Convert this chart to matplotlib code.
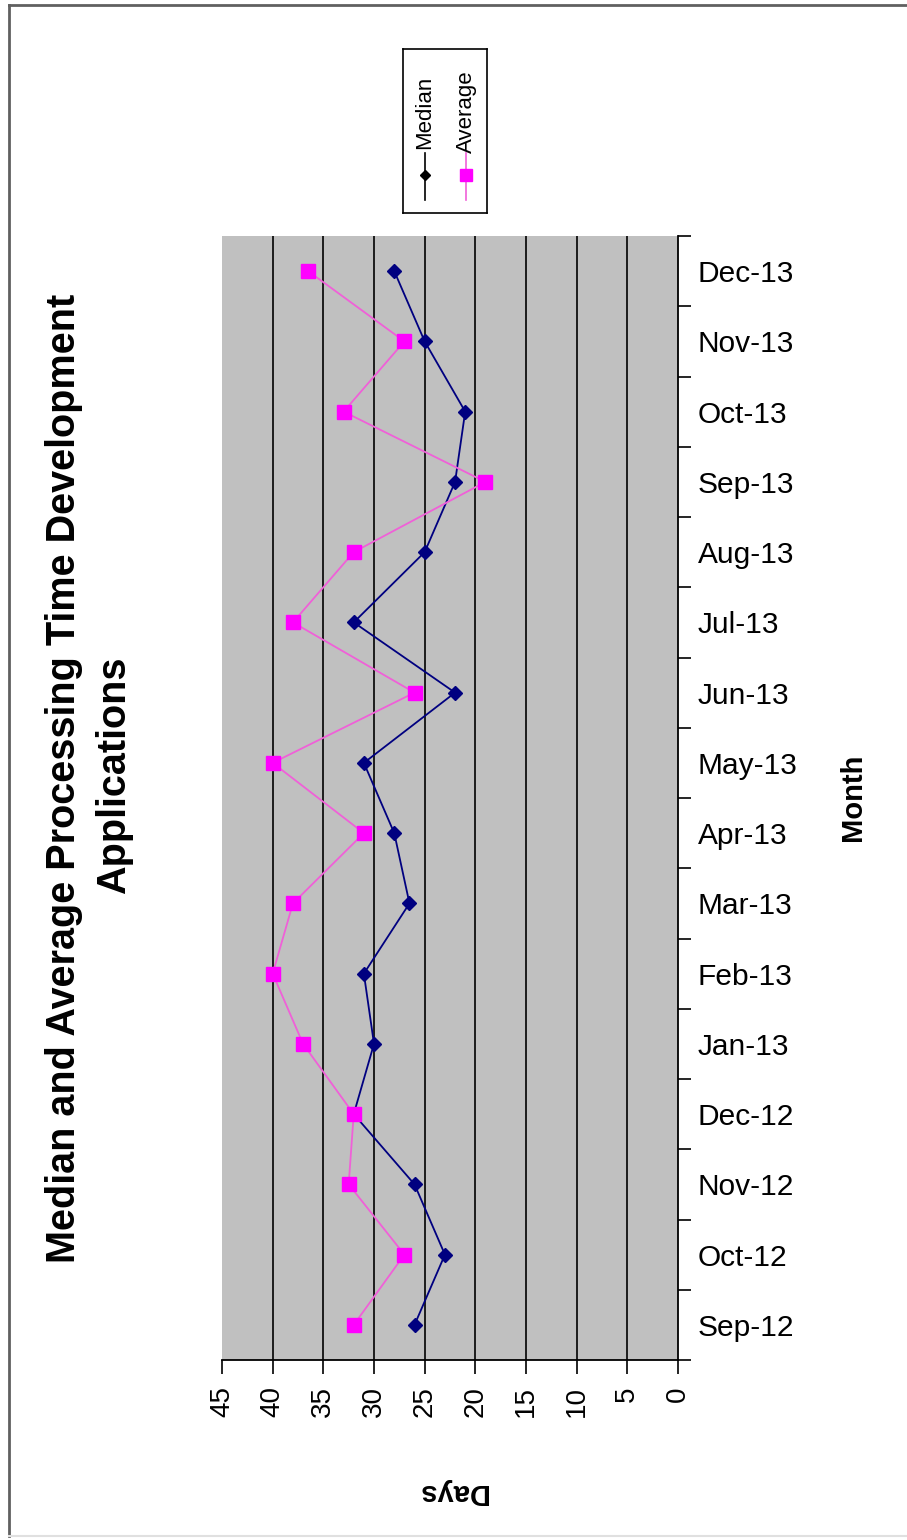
import matplotlib
matplotlib.use("Agg")
import matplotlib.pyplot as plt
from matplotlib.lines import Line2D

plt.rcParams["font.family"] = ["Liberation Sans", "DejaVu Sans"]

# data, Sep-12 .. Dec-13
months = ["Sep-12", "Oct-12", "Nov-12", "Dec-12", "Jan-13", "Feb-13", "Mar-13", "Apr-13",
          "May-13", "Jun-13", "Jul-13", "Aug-13", "Sep-13", "Oct-13", "Nov-13", "Dec-13"]
median = [26, 23, 26, 32, 30, 31, 26.5, 28, 31, 22, 32, 25, 22, 21, 25, 28]
average = [32, 27, 32.5, 32, 37, 40, 38, 31, 40, 26, 38, 32, 19, 33, 27, 36.5]
day_ticks = [0, 5, 10, 15, 20, 25, 30, 35, 40, 45]

W, H = 907, 1540
fig = plt.figure(figsize=(W / 100, H / 100), dpi=100)
fig.patch.set_facecolor("white")

# chart is shown turned a quarter turn: days run right->left, months bottom->top
ax = fig.add_axes([222 / W, (H - 1360) / H, 456 / W, 1124 / H])
ax.set_facecolor("#C0C0C0")
pos = list(range(len(months)))

ax.plot(median, pos, color="#000080", lw=1.3, marker="D", ms=7,
        mfc="#000080", mec="#000080", zorder=3)
ax.plot(average, pos, color="#F060D8", lw=1.3, marker="s", ms=10,
        mfc="#FF00FF", mec="#FF00FF", zorder=4)

ax.set_xlim(45, 0)
ax.set_ylim(-0.5, len(months) - 0.5)

ax.set_xticks(day_ticks)
ax.set_xticklabels([str(d) for d in day_ticks], rotation=90)
ax.tick_params(axis="x", direction="out", length=10, width=1.2, pad=9,
               labelsize=20, color="black")
for d in day_ticks[1:-1]:
    ax.axvline(d, color="black", lw=1.2, zorder=1)

ax.yaxis.tick_right()
ax.set_yticks(pos)
ax.set_yticklabels(months)
ax.set_yticks([p - 0.5 for p in pos] + [len(months) - 0.5], minor=True)
ax.tick_params(axis="y", which="major", length=0, pad=14, labelsize=21.5)
ax.tick_params(axis="y", which="minor", direction="out", length=9, width=1.2,
               color="black")

for s in ["top", "left"]:
    ax.spines[s].set_visible(False)
for s in ["right", "bottom"]:
    ax.spines[s].set_color("black")
    ax.spines[s].set_linewidth(1.3)

# title and axis titles
title_kw = dict(rotation=90, ha="center", va="center", fontsize=28.5, fontweight="bold")
fig.text(64 / W, 1 - 778 / H, "Median and Average Processing Time Development", **title_kw)
fig.text(114 / W, 1 - 775 / H, "Applications", **title_kw)
fig.text(853 / W, 1 - 797 / H, "Month", rotation=90, ha="center", va="center",
         fontsize=21, fontweight="bold")
fig.text(452 / W, 1 - 1492 / H, "Days", rotation=180, ha="center", va="center",
         fontsize=21, fontweight="bold")

# legend, drawn by hand so it can be turned with the chart
lx0, ly0, lw_, lh = 403, 49, 84, 164
lax = fig.add_axes([lx0 / W, 1 - (ly0 + lh) / H, lw_ / W, lh / H])
lax.set_xlim(0, lw_)
lax.set_ylim(lh, 0)
lax.set_xticks([])
lax.set_yticks([])
for s in lax.spines.values():
    s.set_color("black")
    s.set_linewidth(1.2)
legend_items = [("Median", "black", "#000000", "D", 5), ("Average", "#F060D8", "#FF00FF", "s", 9)]
for i, (name, lc, mc, mk, ms) in enumerate(legend_items):
    x = 22 + i * 41
    lax.add_line(Line2D([x, x], [104, 151], color=lc, lw=1.2))
    lax.plot([x], [126], marker=mk, ms=ms, color=mc, mec=mc)
    lax.text(x, 63, name, rotation=90, ha="center", va="center", fontsize=16)

# outer frame
fig.add_artist(Line2D([9 / W, 1], [1 - 5 / H, 1 - 5 / H], color="#606060", lw=2))
fig.add_artist(Line2D([9 / W, 9 / W], [1 - 5 / H, 4 / H], color="#606060", lw=2))
fig.add_artist(Line2D([9 / W, 1], [4 / H, 4 / H], color="#E0E0E0", lw=1.5))

fig.savefig("out.png", dpi=100)
